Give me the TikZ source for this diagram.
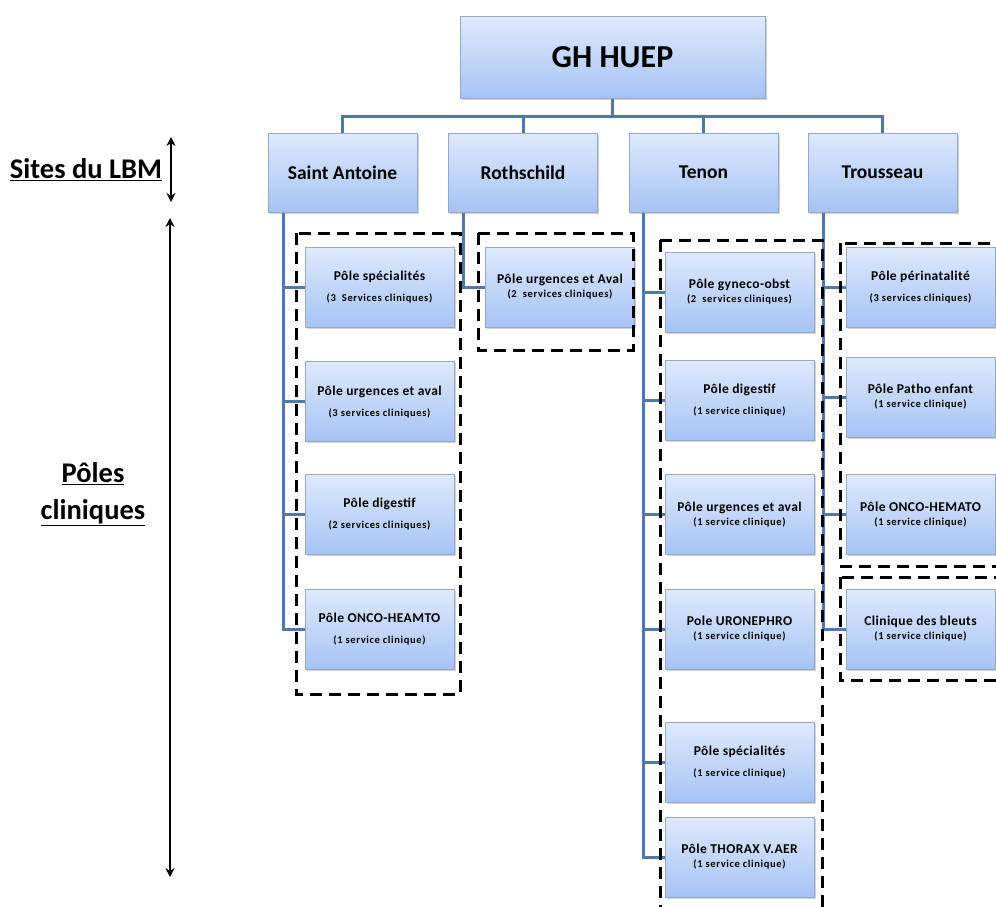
\documentclass[tikz,border=0pt]{standalone}
\usepackage{fontspec}
\setmainfont{Carlito}
\usetikzlibrary{arrows.meta,shadows}

\definecolor{boxtop}{HTML}{DEE9FC}
\definecolor{boxbot}{HTML}{A6C3F4}
\definecolor{boxline}{HTML}{95A8C4}
\definecolor{linkblue}{HTML}{4F79AD}

\newcommand{\subf}{\fontsize{10.5}{12}\selectfont\addfontfeatures{LetterSpace=6}}

\tikzset{
  site/.style={draw=boxline, line width=1pt, top color=boxtop, bottom color=boxbot,
    minimum width=149pt, minimum height=79pt, inner sep=0pt,
    font=\bfseries\fontsize{19.5}{21}\selectfont,
    drop shadow={opacity=0.35, shadow xshift=1.5pt, shadow yshift=-1.5pt}},
  head/.style={site, minimum width=305pt, minimum height=81pt,
    font=\bfseries\fontsize{32}{34}\selectfont},
  pole/.style={site, minimum height=80pt, align=center,
    font=\bfseries\fontsize{13.5}{15}\selectfont\addfontfeatures{LetterSpace=3}},
  link/.style={draw=linkblue, line width=3pt},
  group/.style={draw=black, line width=3pt, dash pattern=on 12pt off 7pt},
  lbl/.style={align=center, font=\bfseries\fontsize{28.5}{37}\selectfont},
  span/.style={draw=black, line width=1.6pt}
}

\begin{document}
\begin{tikzpicture}[x=1pt, y=-1pt, >={Stealth[length=9pt,width=9pt,inset=3pt]}]
\path[use as bounding box, clip] (0,0) rectangle (996,907);

% left labels
\node[lbl] (sites) at (86,170) {\underline{Sites du LBM}};
\node[lbl] (poles) at (93,494) {\underline{Pôles}\\\underline{cliniques}};
\coordinate (s1) at (171,137);
\coordinate (s2) at (171,202);
\coordinate (p1) at (170,218);
\coordinate (p2) at (170,877);
\draw[span, <->] (s1) -- (s2);
\draw[span, <->] (p1) -- (p2);

% top level
\node[head] (gh) at (612.5,57.5) {GH HUEP};
\node[site] (sa) at (342.5,172.5) {Saint Antoine};
\node[site] (ro) at (523,172.5) {Rothschild};
\node[site] (te) at (703.5,172.5) {Tenon};
\node[site] (tr) at (882.5,172.5) {Trousseau};
\foreach \s in {sa,ro,te,tr}
  \draw[link] (gh.south) -- ++(0,18) -| (\s.north);

% Saint Antoine
\node[pole] (sa1) at (379.5,287) {Pôle spécialités\\[6pt]{\subf (3~ Services cliniques)}};
\node[pole] (sa2) at (379.5,401) {\\[-4pt]Pôle urgences et aval\\[6pt]{\subf (3 services cliniques)}};
\node[pole] (sa3) at (379.5,514.5) {Pôle digestif\\[6pt]{\subf (2 services cliniques)}};
\node[pole] (sa4) at (379.5,629) {Pôle ONCO-HEAMTO\\[6pt]{\subf (1 service clinique)}};
\coordinate (satr) at ([xshift=16pt]sa.south west);
\draw[link] (satr) |- (sa4.west);
\foreach \p in {sa1,sa2,sa3}
  \draw[link] (satr |- \p.west) -- (\p.west);

% Rothschild
\node[pole] (ro1) at (560,287) {Pôle urgences et Aval\\[-1pt]{\subf (2~ services cliniques)}};
\coordinate (rotr) at ([xshift=15pt]ro.south west);
\draw[link] (rotr) |- (ro1.west);

% Tenon
\node[pole] (te1) at (739.5,292) {Pôle gyneco-obst\\[-1pt]{\subf (2~ services cliniques)}};
\node[pole] (te2) at (739.5,400) {Pôle digestif\\[6pt]{\subf (1 service clinique)}};
\node[pole] (te3) at (739.5,514.5) {Pôle urgences et aval\\[-1pt]{\subf (1 service clinique)}};
\node[pole] (te4) at (739.5,629) {Pole URONEPHRO\\[-1pt]{\subf (1 service clinique)}};
\node[pole] (te5) at (739.5,762) {Pôle spécialités\\[6pt]{\subf (1 service clinique)}};
\node[pole] (te6) at (739.5,857) {Pôle THORAX V.AER\\[-1pt]{\subf (1 service clinique)}};
\coordinate (tetr) at ([xshift=15pt]te.south west);
\draw[link] (tetr) |- (te6.west);
\foreach \p in {te1,te2,te3,te4,te5}
  \draw[link] (tetr |- \p.west) -- (\p.west);

% Trousseau
\node[pole] (tr1) at (920.5,287) {Pôle périnatalité\\[6pt]{\subf (3 services cliniques)}};
\node[pole] (tr2) at (920.5,397) {Pôle Patho enfant\\[-1pt]{\subf (1 service clinique)}};
\node[pole] (tr3) at (920.5,514.5) {Pôle ONCO-HEMATO\\[-1pt]{\subf (1 service clinique)}};
\node[pole] (tr4) at (920.5,629) {Clinique des bleuts\\[-1pt]{\subf (1 service clinique)}};
\coordinate (trtr) at ([xshift=16pt]tr.south west);
\draw[link] (trtr) |- (tr4.west);
\foreach \p in {tr1,tr2,tr3}
  \draw[link] (trtr |- \p.west) -- (\p.west);

% groups
\draw[group] (296,233) rectangle (460,694);
\draw[group] (478,233) rectangle (633,350);
\draw[group] (660,240) rectangle (822,920);
\draw[group] (840,243) rectangle (1010,566);
\draw[group] (840,577) rectangle (1010,680);
\end{tikzpicture}
\end{document}
